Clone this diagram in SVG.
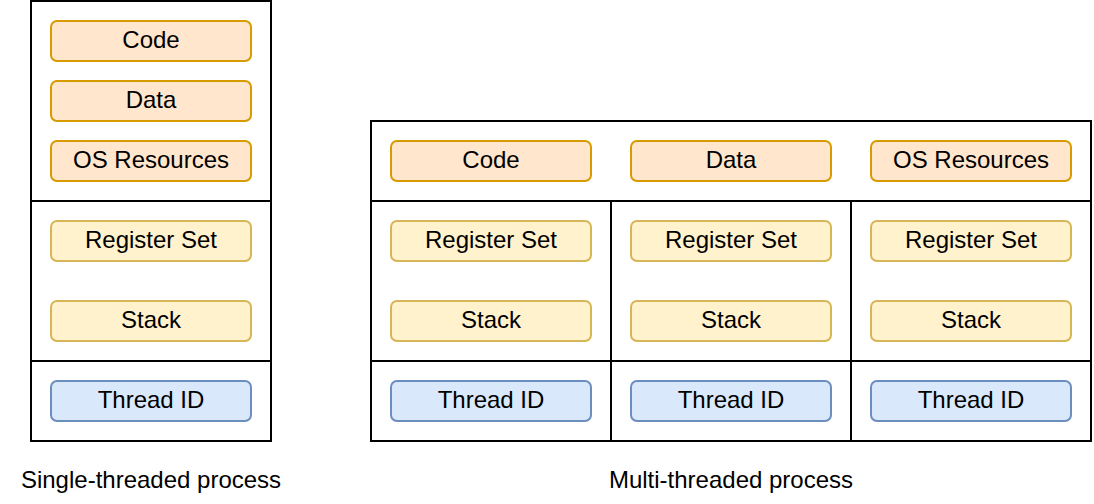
<svg xmlns="http://www.w3.org/2000/svg" width="1094" height="504" viewBox="0 0 1094 504">
<style>
.frame{fill:#ffffff;stroke:#000000;stroke-width:2}
.ln{stroke:#000000;stroke-width:2;fill:none}
.o{fill:#ffe6cc;stroke:#d79b00;stroke-width:2}
.y{fill:#fff2cc;stroke:#d6b656;stroke-width:2}
.b{fill:#dae8fc;stroke:#6c8ebf;stroke-width:2}
text{font-family:"Liberation Sans",Arial,Helvetica,sans-serif;font-size:24px;fill:#000000;text-anchor:middle}
</style>
<g id="single-process">
<rect class="frame" x="31" y="1" width="240" height="440"/>
</g>
<g id="multi-process">
<rect class="frame" x="371" y="121" width="720" height="320"/>
</g>
<g id="dividers">
<line class="ln" x1="31" y1="201" x2="271" y2="201"/>
<line class="ln" x1="31" y1="361" x2="271" y2="361"/>
<line class="ln" x1="371" y1="201" x2="1091" y2="201"/>
<line class="ln" x1="371" y1="361" x2="1091" y2="361"/>
<line class="ln" x1="611" y1="201" x2="611" y2="441"/>
<line class="ln" x1="851" y1="201" x2="851" y2="441"/>
</g>
<g id="s-code"><rect class="o" x="51" y="21" width="200" height="40" rx="6"/><text x="151" y="48">Code</text></g>
<g id="s-data"><rect class="o" x="51" y="81" width="200" height="40" rx="6"/><text x="151" y="108">Data</text></g>
<g id="s-os"><rect class="o" x="51" y="141" width="200" height="40" rx="6"/><text x="151" y="168">OS Resources</text></g>
<g id="s-reg"><rect class="y" x="51" y="221" width="200" height="40" rx="6"/><text x="151" y="248">Register Set</text></g>
<g id="s-stack"><rect class="y" x="51" y="301" width="200" height="40" rx="6"/><text x="151" y="328">Stack</text></g>
<g id="s-tid"><rect class="b" x="51" y="381" width="200" height="40" rx="6"/><text x="151" y="408">Thread ID</text></g>

<g id="m-code"><rect class="o" x="391" y="141" width="200" height="40" rx="6"/><text x="491" y="168">Code</text></g>
<g id="m-data"><rect class="o" x="631" y="141" width="200" height="40" rx="6"/><text x="731" y="168">Data</text></g>
<g id="m-os"><rect class="o" x="871" y="141" width="200" height="40" rx="6"/><text x="971" y="168">OS Resources</text></g>

<g id="m-reg1"><rect class="y" x="391" y="221" width="200" height="40" rx="6"/><text x="491" y="248">Register Set</text></g>
<g id="m-reg2"><rect class="y" x="631" y="221" width="200" height="40" rx="6"/><text x="731" y="248">Register Set</text></g>
<g id="m-reg3"><rect class="y" x="871" y="221" width="200" height="40" rx="6"/><text x="971" y="248">Register Set</text></g>

<g id="m-stack1"><rect class="y" x="391" y="301" width="200" height="40" rx="6"/><text x="491" y="328">Stack</text></g>
<g id="m-stack2"><rect class="y" x="631" y="301" width="200" height="40" rx="6"/><text x="731" y="328">Stack</text></g>
<g id="m-stack3"><rect class="y" x="871" y="301" width="200" height="40" rx="6"/><text x="971" y="328">Stack</text></g>

<g id="m-tid1"><rect class="b" x="391" y="381" width="200" height="40" rx="6"/><text x="491" y="408">Thread ID</text></g>
<g id="m-tid2"><rect class="b" x="631" y="381" width="200" height="40" rx="6"/><text x="731" y="408">Thread ID</text></g>
<g id="m-tid3"><rect class="b" x="871" y="381" width="200" height="40" rx="6"/><text x="971" y="408">Thread ID</text></g>

<g id="labels">
<text x="151" y="488">Single-threaded process</text>
<text x="731" y="488">Multi-threaded process</text>
</g>
<g id="connectors"></g>
</svg>
